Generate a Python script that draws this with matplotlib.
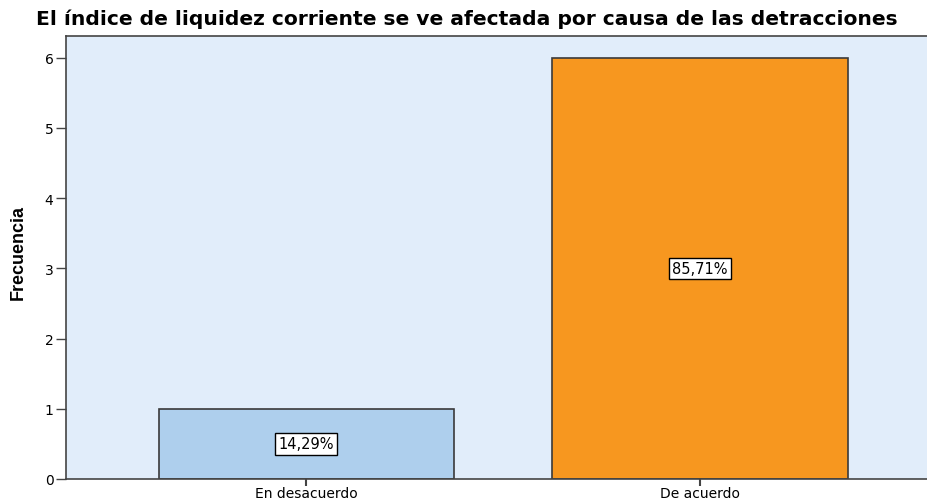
import matplotlib
matplotlib.use('Agg')
import matplotlib.pyplot as plt

categorias = ['En desacuerdo', 'De acuerdo']
frecuencias = [1, 6]
porcentajes = ['14,29%', '85,71%']
colores = ['#AECFED', '#F7971F']

plt.rcParams['font.family'] = ['DejaVu Sans']

fig = plt.figure(figsize=(9.28, 5.02), dpi=100)
ax = fig.add_axes([66 / 928, 1 - 480 / 502, (941 - 66) / 928, (480 - 37) / 502])
ax.set_facecolor('#E1EDFA')

x = range(len(categorias))
ax.bar(x, frecuencias, width=0.75, color=colores, edgecolor='#3A3A3A', linewidth=1.2, zorder=2)

for i, (f, p) in enumerate(zip(frecuencias, porcentajes)):
    ax.text(i, f / 2, p, ha='center', va='center', fontsize=10.5, zorder=3,
            bbox=dict(boxstyle='square,pad=0.22', fc='white', ec='black', lw=1))

ax.set_xlim(-0.61, 1.612)
ax.set_ylim(0, 6.31)
ax.set_xticks(list(x))
ax.set_xticklabels(categorias, fontsize=10)
ax.set_yticks(range(0, 7))
ax.tick_params(axis='y', labelsize=10, length=7, width=1, color='#444444', pad=2)
ax.tick_params(axis='x', length=5, width=1.5, color='#444444', pad=0)

for s in ['left', 'bottom', 'top']:
    ax.spines[s].set_color('#444444')
    ax.spines[s].set_linewidth(1.2)
ax.spines['right'].set_visible(False)

fig.text(18 / 928, 1 - 253 / 502, 'Frecuencia', rotation=90, ha='center', va='center',
         fontsize=13, fontweight='bold', family=['Liberation Sans', 'DejaVu Sans'])
fig.text(467 / 928, 1 - 19 / 502, 'El índice de liquidez corriente se ve afectada por causa de las detracciones',
         ha='center', va='center', fontsize=14.6, fontweight='bold')

fig.savefig('out.png', dpi=100)
